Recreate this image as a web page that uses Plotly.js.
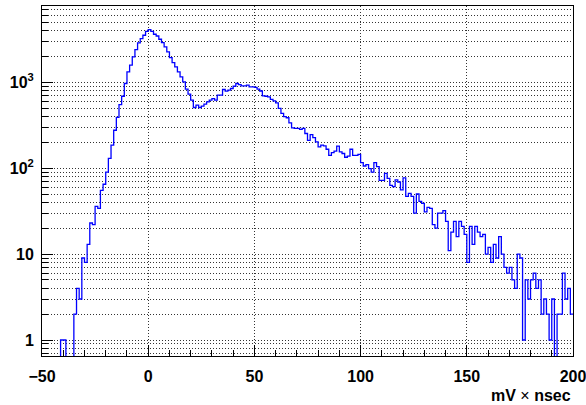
<!DOCTYPE html>
<html>
<head>
<meta charset="utf-8">
<script src="https://cdn.plot.ly/plotly-3.0.1.min.js"></script>
<style>html,body{margin:0;padding:0;background:#fff;}#chart{width:586px;height:405px;}</style>
</head>
<body>
<div id="chart"></div>
<script>
// Histogram binning (200 bins from -50 to 200)
const xMin = -50;
const xMax = 200;
const binWidth = 1.25;

// Bin contents
const counts = [
  0, 0, 0, 0, 0, 0, 0, 1, 1, 0,
  0, 0, 2, 4, 3, 9, 8, 13, 23, 22,
  36, 34, 55, 65, 90, 130, 185, 276, 390, 550,
  687, 966, 1318, 1577, 1970, 2400, 2866, 3223, 3522, 3900,
  4100, 3900, 3614, 3450, 3162, 2892, 2575, 2253, 1937, 1694,
  1506, 1318, 1153, 1008, 829, 725, 618, 508, 540, 508,
  526, 555, 590, 618, 646, 618, 706, 706, 823, 786,
  808, 845, 898, 966, 940, 905, 905, 923, 883, 883,
  870, 830, 790, 693, 687, 674, 633, 607, 575, 495,
  435, 397, 386, 336, 294, 290, 290, 283, 290, 253,
  211, 246, 227, 202, 177, 185, 182, 166, 141, 152,
  158, 180, 155, 148, 134, 138, 166, 141, 141, 145,
  116, 106, 110, 99, 90, 116, 104, 72, 72, 87,
  76, 63, 61, 73, 69, 56, 77, 47, 51, 47,
  30, 50, 41, 39, 31, 35, 34, 22, 20, 30,
  30, 32, 24, 11, 18, 24, 16, 24, 21, 17,
  8, 21, 13, 21, 18, 16, 17, 10, 12, 8,
  13, 9, 16, 10, 7, 6, 7, 5, 4, 10,
  9, 1, 5, 3, 5, 6, 4, 5, 2, 3,
  2, 1, 3, 0, 2, 2, 6, 3, 4, 2
];

// Axis ticks
const xTickVals = [-50, 0, 50, 100, 150, 200];
const yTickVals = [1, 10, 100, 1000];
const yTickText = ['1', '10', '10<sup>2</sup>', '10<sup>3</sup>'];
const yMinorVals = [0.7, 0.8, 0.9,
  2, 3, 4, 5, 6, 7, 8, 9,
  20, 30, 40, 50, 60, 70, 80, 90,
  200, 300, 400, 500, 600, 700, 800, 900,
  2000, 3000, 4000, 5000, 6000, 7000];
const xTitle = '<b>mV</b> × <b>nsec</b>';

// Build step outline from bin edges
const xs = counts.map((_, i) => xMin + i * binWidth);
xs.push(xMax);
const floorVal = 0.1; // empty bins fall below the visible log range
const ys = counts.map(c => (c > 0 ? c : floorVal));
ys.push(ys[ys.length - 1]);

const fam = 'Liberation Sans, Arial, Helvetica, sans-serif';
const font = {family: fam, size: 16, color: '#000', weight: 'bold'};
const gridDash = '1px,2px';
const gridColor = '#333';

const trace = {
  type: 'scatter',
  mode: 'lines',
  x: xs,
  y: ys,
  line: {shape: 'hv', color: '#0000ff', width: 1.3},
  hoverinfo: 'skip'
};

const layout = {
  width: 586,
  height: 405,
  margin: {l: 42, r: 13, t: 6, b: 49},
  paper_bgcolor: '#ffffff',
  plot_bgcolor: '#ffffff',
  showlegend: false,
  font: font,
  xaxis: {
    range: [xMin, xMax],
    tickmode: 'array',
    tickvals: xTickVals,
    ticks: 'inside',
    ticklen: 11,
    tickwidth: 1,
    tickcolor: '#000',
    tickfont: font,
    ticklabeloverflow: 'allow',
    showline: true,
    linecolor: '#000',
    linewidth: 1,
    mirror: true,
    zeroline: false,
    showgrid: true,
    gridcolor: gridColor,
    griddash: gridDash,
    gridwidth: 1,
    ticklabelstandoff: 6,
    minor: {dtick: 10, tick0: 0, ticks: 'inside', ticklen: 6, tickcolor: '#000', showgrid: false}
  },
  yaxis: {
    type: 'log',
    range: [-0.186, 3.887],
    tickmode: 'array',
    tickvals: yTickVals,
    ticktext: yTickText,
    ticks: 'inside',
    ticklen: 11,
    tickwidth: 1,
    tickcolor: '#000',
    tickfont: font,
    showline: true,
    linecolor: '#000',
    linewidth: 1,
    mirror: true,
    zeroline: false,
    showgrid: true,
    gridcolor: gridColor,
    griddash: gridDash,
    gridwidth: 1,
    ticklabelstandoff: 4,
    minor: {tickmode: 'array', tickvals: yMinorVals, ticks: 'inside', ticklen: 6, tickcolor: '#000',
            showgrid: true, gridcolor: gridColor, griddash: gridDash, gridwidth: 1}
  },
  annotations: [{
    text: xTitle,
    xref: 'paper', yref: 'paper',
    x: 1, y: -0.114,
    xanchor: 'right', yanchor: 'middle',
    showarrow: false,
    font: {family: fam, size: 16, color: '#000', weight: 'normal'}
  }]
};

Plotly.newPlot('chart', [trace], layout, {staticPlot: true, displayModeBar: false});
</script>
</body>
</html>
